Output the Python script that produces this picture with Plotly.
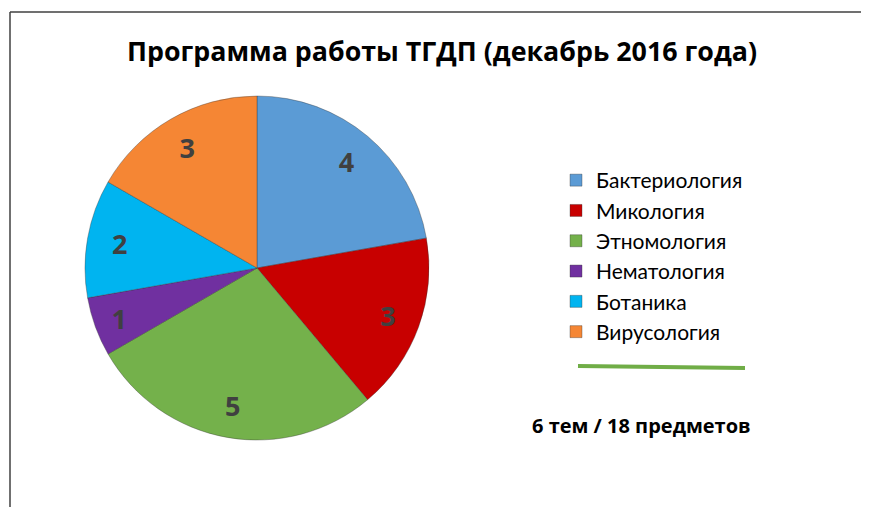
import plotly.graph_objects as go

categories = ["Бактериология", "Микология", "Этномология", "Нематология", "Ботаника", "Вирусология"]
values = [4, 3, 5, 1, 2, 3]
colors = ["#5b9bd5", "#c80000", "#74b14b", "#7030a0", "#00b4f0", "#f58634"]
title_text = "Программа работы ТГДП (декабрь 2016 года)"
note_text = "6 тем / 18 предметов"

W, H = 869, 507
OFF = 8  # page body offset
FONT = "Open Sans"
LFONT = "Lato"

cx, cy, R = 257 - OFF, 268 - OFF, 172
dom = dict(x=[(cx - R) / W, (cx + R) / W], y=[1 - (cy + R) / H, 1 - (cy - R) / H])

fig = go.Figure()
# main pie (colours + legend)
fig.add_trace(go.Pie(
    labels=categories,
    values=values,
    sort=False,
    direction="clockwise",
    rotation=0,
    marker=dict(colors=colors, line=dict(color="rgba(50,50,50,0.45)", width=0.8)),
    textinfo="none",
    domain=dom,
    hoverinfo="label+value",
))
# transparent ring carrying the value labels (placed further out, like the reference)
fig.add_trace(go.Pie(
    labels=categories,
    values=values,
    sort=False,
    direction="clockwise",
    rotation=0,
    hole=0.62,
    marker=dict(colors=["rgba(0,0,0,0)"] * len(values), line=dict(width=0)),
    texttemplate="<b>%{value}</b>",
    textposition="inside",
    insidetextorientation="horizontal",
    textfont=dict(family=FONT, size=27, color="#404040"),
    domain=dom,
    showlegend=False,
    hoverinfo="skip",
))

fig.update_layout(
    width=W, height=H,
    margin=dict(l=0, r=0, t=0, b=0),
    paper_bgcolor="white",
    plot_bgcolor="white",
    font=dict(family=FONT, color="#000000"),
    uniformtext=dict(minsize=27, mode="show"),
    title=dict(text="<b>" + title_text + "</b>", x=(442 - OFF) / W, xanchor="center",
               y=1 - (52 - OFF) / H, yanchor="middle",
               font=dict(family=FONT, size=26.8, color="#000000")),
    legend=dict(x=548 / W, y=1 - 152 / H, xanchor="left", yanchor="top",
                font=dict(family=LFONT, size=21, color="#000000"),
                bgcolor="rgba(0,0,0,0)", itemwidth=30, tracegroupgap=0),
    shapes=[
        dict(type="line", xref="paper", yref="paper", x0=(10 - OFF) / W, x1=1,
             y0=1 - (12 - OFF) / H, y1=1 - (12 - OFF) / H,
             line=dict(color="#404040", width=1.5)),
        dict(type="line", xref="paper", yref="paper", x0=(10 - OFF) / W, x1=(10 - OFF) / W,
             y0=0, y1=1 - (12 - OFF) / H,
             line=dict(color="#404040", width=1.5)),
        dict(type="line", xref="paper", yref="paper", x0=(578 - OFF) / W, x1=(745 - OFF) / W,
             y0=1 - (366 - OFF) / H, y1=1 - (368 - OFF) / H,
             line=dict(color="#70ad47", width=4)),
    ],
    annotations=[
        dict(text="<b>" + note_text + "</b>", xref="paper", yref="paper",
             x=(641 - OFF) / W, y=1 - (425 - OFF) / H,
             xanchor="center", yanchor="middle", showarrow=False,
             font=dict(family=FONT, size=20, color="#000000")),
    ],
)

fig.write_html("out.html")
